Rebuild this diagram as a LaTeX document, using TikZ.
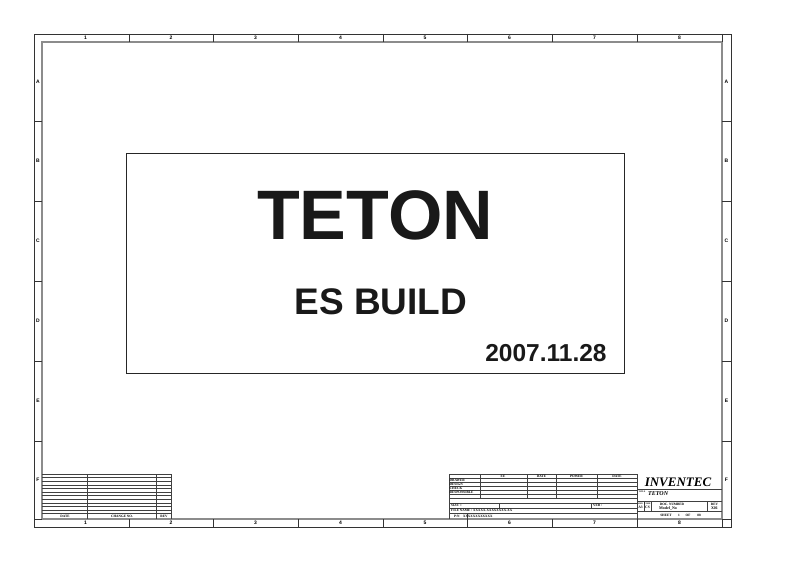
\documentclass[tikz,border=0pt]{standalone}
\usepackage{fontspec}
\setmainfont{Liberation Serif}
\setsansfont{Liberation Sans}
\usetikzlibrary{positioning}
\tikzset{
	frame/.style={draw=black!80, line width=0.8pt}, % outer sheet border
	inframe/.style={draw=black!45, line width=1.3pt}, % inner drawing border
	grid/.style={draw=black!75, line width=0.4pt}, % table lines
	zone/.style={font=\sffamily\bfseries\fontsize{5}{5}\selectfont, inner sep=0pt}, % zone numbers and letters
	tb/.style={font=\bfseries\fontsize{3.4}{3.4}\selectfont, inner sep=0pt}, % title block text
	tbs/.style={tb, font=\bfseries\fontsize{2.2}{2.2}\selectfont}, % narrow cells
	big/.style={font=\sffamily\bfseries, inner sep=0pt, text=black!90},
}

\begin{document}
\begin{tikzpicture}[x=1pt, y=-1pt]
	\useasboundingbox[fill=white] (0,0) rectangle (793,561);
	% sheet frame
	\draw[frame] (34,34) rectangle (731,527);
	\draw[inframe] (42,42) rectangle (722,519);
	% zones
	\foreach \xa/\xb/\n in {42/129/1, 129/213/2, 213/298/3, 298/383/4, 383/467/5, 467/552/6, 552/637/7, 637/722/8}{
		\draw[frame, line width=0.5pt] (\xb,34) -- (\xb,42) (\xb,519) -- (\xb,527);
		\node[zone] (top\n) at ({(\xa+\xb)/2},38) {\n};
		\node[zone] (bot\n) at ({(\xa+\xb)/2},523) {\n};
	}
	\foreach \ya/\yb/\l in {42/121/A, 121/201/B, 201/281/C, 281/361/D, 361/441/E, 441/519/F}{
		\draw[frame, line width=0.5pt] (34,\yb) -- (42,\yb) (722,\yb) -- (731,\yb);
		\node[zone] (left\l) at (38,{(\ya+\yb)/2}) {\l};
		\node[zone] (right\l) at (726.5,{(\ya+\yb)/2}) {\l};
	}

	% cover box
	\draw[draw=black!85, line width=1pt] (126,154) rectangle (624,374);
	\node[big, font=\sffamily\bfseries\fontsize{70}{70}\selectfont] (name) at (375,215) {TETON};
	\node[big, font=\sffamily\bfseries\fontsize{37}{37}\selectfont] (build) at (381,302) {ES BUILD};
	\node[big, font=\sffamily\bfseries\fontsize{24.5}{24.5}\selectfont] (date) at (546,353) {2007.11.28};

	% revision table
	\foreach \i in {0,...,11}
		\draw[grid] (42,{474+3.6*\i}) -- (171,{474+3.6*\i});
	\draw[grid] (171,474) -- (171,519) (87,474) -- (87,519) (156,474) -- (156,519);
	\node[tb] (revdate) at (65,516.5) {DATE};
	\node[tb] (revno) at (122,516.5) {CHANGE NO.};
	\node[tb] (revrev) at (164,516.5) {REV};

	% title block
	\foreach \y in {474,478,482,486,490,494,498,503,508,513}
		\draw[grid] (449,\y) -- (637,\y);
	\draw[grid] (449,474) -- (449,519);
	\draw[grid] (480,474) -- (480,498);
	\foreach \x in {527,556,597}
		\draw[grid] (\x,474) -- (\x,498);
	\draw[grid] (499,503) -- (499,508) (591,503) -- (591,508) (467,513) -- (467,519);
	\node[tb] (hee) at (503,476) {EE};
	\node[tb] (hdate) at (541.5,476) {DATE};
	\node[tb] (hpower) at (576.5,476) {POWER};
	\node[tb] (hdate2) at (617,476) {DATE};
	\foreach \t/\y in {DRAWER/480, DESIGN/484, CHECK/488, RESPONSIBLE/492}
		\node[tb, anchor=west] (r\t) at (449.5,\y) {\t};
	\node[tb, anchor=west] (size) at (451,505.5) {SIZE =};
	\node[tb, anchor=west] (ver) at (593,505.5) {VER :};
	\node[tb, anchor=west] (fname) at (451,510.5) {FILE NAME : XXXXX-XXXXXXXX-XX};
	\node[tb, anchor=west] (pn) at (454,516) {P/N\quad XXXXXXXXXXXX};

	\draw[grid] (637,474) -- (637,519);
	\draw[grid] (637,489) -- (722,489) (637,501) -- (722,501) (637,511) -- (722,511);
	\draw[grid] (644,501) -- (644,511) (651,501) -- (651,511) (707,501) -- (707,511);
	\node[font=\bfseries\itshape\fontsize{13}{13}\selectfont, inner sep=0pt] (company) at (678,482) {INVENTEC};
	\node[tbs, anchor=west] (title) at (638.5,492) {TITLE};
	\node[font=\bfseries\itshape\fontsize{6}{6}\selectfont, inner sep=0pt, anchor=west] (project) at (648,494) {TETON};
	\node[tbs] (hsize) at (640.5,503.5) {SIZE};
	\node[tb] (vsize) at (640.5,507.5) {\fontsize{3.6}{3.6}\selectfont A3};
	\node[tbs] (hcode) at (647.5,503.5) {CODE};
	\node[tb] (vcode) at (647.5,507.5) {\fontsize{3.6}{3.6}\selectfont CS};
	\node[tb] (hdoc) at (672,504) {DOC. NUMBER};
	\node[tb] (vdoc) at (668,508) {\fontsize{4}{4}\selectfont Model\_No};
	\node[tb] (hrev) at (714.5,504) {REV};
	\node[tb] (vrev) at (714.5,508) {\fontsize{4}{4}\selectfont X01};
	\node[tb] (sheet) at (666,515) {SHEET};
	\node[tb] (sheetno) at (679,515) {1};
	\node[tb] (of) at (688,515) {OF};
	\node[tb] (sheets) at (699,515) {88};
\end{tikzpicture}
\end{document}
